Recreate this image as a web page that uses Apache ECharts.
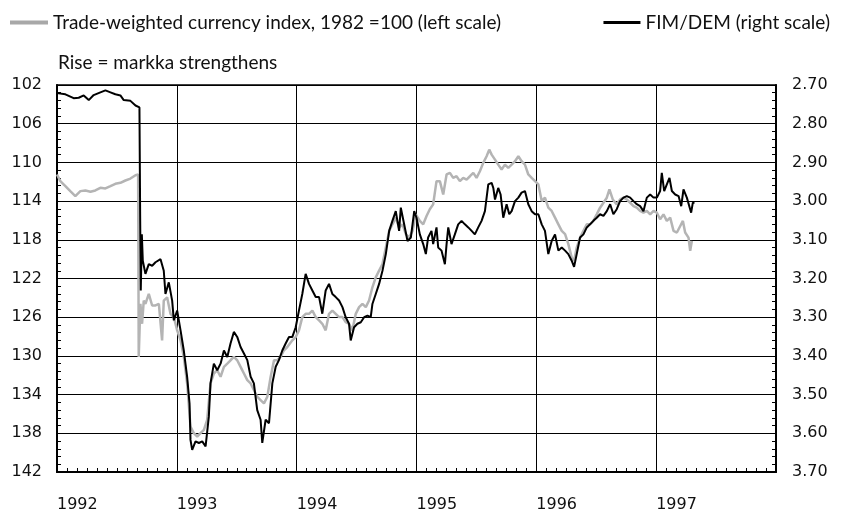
<!DOCTYPE html>
<html>
<head>
<meta charset="utf-8">
<script src="https://cdn.jsdelivr.net/npm/echarts@6/dist/echarts.min.js"></script>
<style>
  html, body { margin: 0; padding: 0; background: #fff; }
  #chart { width: 845px; height: 513px; }
</style>
</head>
<body>
<div id="chart"></div>
<script>
// x axis: decimal years
var yearTicks = [1992, 1993, 1994, 1995, 1996, 1997];

// trade-weighted currency index, 1982=100 (left scale)
var indexYears = [
  1992.000, 1992.028, 1992.070, 1992.111, 1992.153, 1992.195, 1992.237, 1992.279, 1992.320, 1992.362,
  1992.404, 1992.446, 1992.487, 1992.529, 1992.571, 1992.613, 1992.655, 1992.677, 1992.682, 1992.696,
  1992.710, 1992.724, 1992.738, 1992.766, 1992.794, 1992.822, 1992.850, 1992.877, 1992.891, 1992.919,
  1992.947, 1992.975, 1993.003, 1993.031, 1993.058, 1993.086, 1993.114, 1993.142, 1993.170, 1993.198,
  1993.226, 1993.253, 1993.281, 1993.309, 1993.337, 1993.365, 1993.393, 1993.421, 1993.448, 1993.476,
  1993.504, 1993.532, 1993.560, 1993.588, 1993.616, 1993.643, 1993.671, 1993.699, 1993.727, 1993.755,
  1993.783, 1993.811, 1993.838, 1993.866, 1993.894, 1993.922, 1993.964, 1993.992, 1994.019, 1994.047,
  1994.075, 1994.103, 1994.131, 1994.159, 1994.187, 1994.214, 1994.242, 1994.270, 1994.298, 1994.326,
  1994.354, 1994.382, 1994.409, 1994.437, 1994.465, 1994.493, 1994.521, 1994.549, 1994.577, 1994.604,
  1994.632, 1994.660, 1994.688, 1994.716, 1994.744, 1994.772, 1994.799, 1994.827, 1994.855, 1994.883,
  1994.911, 1994.939, 1994.967, 1994.994, 1995.028, 1995.056, 1995.084, 1995.111, 1995.139, 1995.167,
  1995.195, 1995.223, 1995.251, 1995.279, 1995.306, 1995.334, 1995.362, 1995.390, 1995.418, 1995.446,
  1995.474, 1995.501, 1995.529, 1995.557, 1995.585, 1995.607, 1995.627, 1995.655, 1995.682, 1995.710,
  1995.738, 1995.766, 1995.794, 1995.822, 1995.850, 1995.877, 1995.905, 1995.933, 1995.961, 1995.989,
  1996.017, 1996.045, 1996.072, 1996.100, 1996.128, 1996.156, 1996.184, 1996.212, 1996.240, 1996.267,
  1996.295, 1996.315, 1996.337, 1996.365, 1996.393, 1996.421, 1996.448, 1996.476, 1996.504, 1996.532,
  1996.560, 1996.588, 1996.610, 1996.638, 1996.671, 1996.699, 1996.727, 1996.755, 1996.783, 1996.811,
  1996.838, 1996.866, 1996.894, 1996.922, 1996.950, 1996.978, 1997.006, 1997.033, 1997.061, 1997.089,
  1997.117, 1997.145, 1997.173, 1997.201, 1997.223, 1997.242, 1997.270, 1997.284, 1997.298
];
var indexValues = [
  111.25, 111.94, 112.45, 112.97, 113.48, 112.97, 112.90, 113.04, 112.90, 112.63,
  112.69, 112.45, 112.21, 112.11, 111.87, 111.67, 111.32, 111.25, 130.11, 124.62,
  126.68, 124.28, 124.62, 123.59, 124.79, 124.79, 124.62, 128.39, 124.28, 123.94,
  125.65, 125.99, 127.36, 128.39, 130.11, 132.85, 137.30, 137.99, 138.33, 137.99,
  137.65, 136.62, 132.85, 131.82, 131.48, 132.16, 131.13, 130.79, 130.45, 130.11,
  130.45, 131.13, 131.82, 132.51, 132.85, 133.53, 134.22, 134.56, 134.90, 134.22,
  132.16, 130.45, 130.45, 130.11, 129.42, 129.08, 128.39, 128.05, 127.36, 125.99,
  125.65, 125.65, 125.31, 125.99, 126.34, 126.68, 127.36, 125.65, 125.31, 125.65,
  125.99, 125.99, 126.51, 126.68, 127.36, 125.65, 124.96, 124.62, 124.96, 124.28,
  122.91, 121.88, 121.19, 120.51, 118.80, 117.08, 116.40, 115.71, 116.74, 116.40,
  117.42, 117.77, 117.08, 115.37, 116.05, 116.40, 115.54, 114.85, 114.34, 111.94,
  111.94, 113.31, 111.25, 111.08, 111.60, 111.43, 111.94, 111.60, 111.77, 111.43,
  111.08, 111.60, 110.91, 110.05, 109.37, 108.68, 109.20, 109.71, 110.23, 110.74,
  110.23, 110.57, 110.23, 109.88, 109.37, 109.88, 110.23, 111.25, 111.60, 111.94,
  112.28, 114.00, 113.65, 114.68, 115.02, 115.71, 116.40, 117.08, 117.42, 118.45,
  119.82, 120.17, 118.80, 117.77, 117.08, 116.40, 116.40, 116.05, 115.37, 114.68,
  114.17, 113.65, 112.80, 113.83, 114.34, 113.83, 113.65, 113.83, 114.17, 114.51,
  114.68, 115.02, 115.20, 115.02, 115.37, 115.02, 115.20, 115.88, 115.37, 116.05,
  115.71, 117.08, 117.25, 116.57, 116.05, 117.25, 117.77, 119.14, 118.11
];

// FIM/DEM (right scale)
var fimYears = [
  1992.000, 1992.070, 1992.139, 1992.181, 1992.223, 1992.265, 1992.306, 1992.362, 1992.404, 1992.446,
  1992.487, 1992.529, 1992.557, 1992.613, 1992.655, 1992.688, 1992.694, 1992.699, 1992.708, 1992.716,
  1992.738, 1992.766, 1992.794, 1992.822, 1992.864, 1992.891, 1992.905, 1992.933, 1992.961, 1992.975,
  1993.003, 1993.031, 1993.058, 1993.086, 1993.106, 1993.114, 1993.128, 1993.156, 1993.184, 1993.212,
  1993.240, 1993.267, 1993.281, 1993.309, 1993.337, 1993.365, 1993.393, 1993.421, 1993.448, 1993.476,
  1993.504, 1993.532, 1993.560, 1993.588, 1993.616, 1993.643, 1993.671, 1993.699, 1993.713, 1993.741,
  1993.769, 1993.797, 1993.825, 1993.852, 1993.880, 1993.908, 1993.936, 1993.964, 1993.992, 1994.019,
  1994.047, 1994.075, 1994.103, 1994.131, 1994.159, 1994.187, 1994.214, 1994.242, 1994.270, 1994.298,
  1994.326, 1994.354, 1994.382, 1994.409, 1994.437, 1994.451, 1994.479, 1994.507, 1994.535, 1994.563,
  1994.591, 1994.618, 1994.632, 1994.660, 1994.688, 1994.716, 1994.744, 1994.772, 1994.799, 1994.827,
  1994.855, 1994.869, 1994.897, 1994.925, 1994.953, 1994.981, 1995.000, 1995.028, 1995.056, 1995.078,
  1995.097, 1995.125, 1995.139, 1995.167, 1995.181, 1995.209, 1995.237, 1995.251, 1995.265, 1995.292,
  1995.320, 1995.348, 1995.376, 1995.404, 1995.432, 1995.460, 1995.487, 1995.515, 1995.543, 1995.571,
  1995.599, 1995.627, 1995.641, 1995.655, 1995.682, 1995.702, 1995.724, 1995.752, 1995.774, 1995.794,
  1995.822, 1995.850, 1995.877, 1995.905, 1995.933, 1995.961, 1995.989, 1996.017, 1996.045, 1996.072,
  1996.100, 1996.128, 1996.156, 1996.184, 1996.212, 1996.240, 1996.267, 1996.295, 1996.315, 1996.337,
  1996.365, 1996.393, 1996.421, 1996.448, 1996.476, 1996.504, 1996.532, 1996.560, 1996.588, 1996.616,
  1996.643, 1996.671, 1996.699, 1996.727, 1996.755, 1996.783, 1996.811, 1996.838, 1996.866, 1996.894,
  1996.922, 1996.950, 1996.978, 1997.006, 1997.033, 1997.047, 1997.067, 1997.089, 1997.111, 1997.131,
  1997.159, 1997.187, 1997.209, 1997.228, 1997.256, 1997.270, 1997.292, 1997.306, 1997.320
];
var fimValues = [
  2.721, 2.724, 2.734, 2.733, 2.727, 2.739, 2.726, 2.719, 2.714, 2.719,
  2.724, 2.727, 2.739, 2.741, 2.753, 2.758, 3.043, 3.231, 3.086, 3.154,
  3.188, 3.163, 3.167, 3.158, 3.150, 3.180, 3.240, 3.210, 3.257, 3.308,
  3.283, 3.334, 3.386, 3.454, 3.523, 3.617, 3.643, 3.621, 3.625, 3.621,
  3.634, 3.557, 3.471, 3.420, 3.437, 3.420, 3.386, 3.403, 3.368, 3.338,
  3.351, 3.377, 3.394, 3.411, 3.454, 3.471, 3.540, 3.565, 3.625, 3.565,
  3.574, 3.471, 3.428, 3.411, 3.386, 3.368, 3.351, 3.351, 3.326, 3.283,
  3.240, 3.188, 3.214, 3.231, 3.248, 3.248, 3.291, 3.231, 3.214, 3.240,
  3.248, 3.257, 3.274, 3.300, 3.317, 3.360, 3.326, 3.317, 3.313, 3.300,
  3.296, 3.300, 3.266, 3.240, 3.214, 3.180, 3.137, 3.077, 3.051, 3.026,
  3.077, 3.017, 3.060, 3.103, 3.094, 3.026, 3.043, 3.086, 3.111, 3.137,
  3.094, 3.077, 3.111, 3.068, 3.120, 3.128, 3.163, 3.111, 3.068, 3.111,
  3.086, 3.060, 3.051, 3.060, 3.068, 3.077, 3.086, 3.068, 3.051, 3.026,
  2.957, 2.953, 2.966, 2.996, 2.966, 2.983, 3.043, 3.008, 3.034, 3.026,
  3.000, 2.991, 2.978, 2.974, 3.008, 3.026, 3.034, 3.034, 3.060, 3.077,
  3.137, 3.103, 3.086, 3.128, 3.120, 3.128, 3.137, 3.154, 3.170, 3.137,
  3.094, 3.086, 3.068, 3.060, 3.051, 3.043, 3.034, 3.038, 3.026, 3.008,
  3.034, 3.021, 3.000, 2.991, 2.987, 2.991, 3.000, 3.008, 3.013, 3.026,
  2.991, 2.983, 2.991, 2.991, 2.974, 2.927, 2.974, 2.957, 2.940, 2.974,
  2.983, 2.987, 3.013, 2.970, 2.991, 2.996, 3.030, 3.004, 3.004
];

var indexName = "Trade-weighted currency index, 1982 =100 (left scale)";
var fimName = "FIM/DEM (right scale)";

var myChart = echarts.init(document.getElementById("chart"));

var labelFont = {
  color: "#111",
  fontFamily: "DejaVu Sans",
  fontSize: 16,
};

myChart.setOption({
  animation: false,
  backgroundColor: "#fff",
  legend: [
    {
      left: 5,
      top: 8,
      icon: "rect",
      itemWidth: 38,
      itemHeight: 4,
      data: [indexName],
      textStyle: { color: "#111", fontFamily: "Lato", fontSize: 19 },
    },
    {
      right: 10,
      top: 8,
      icon: "rect",
      itemWidth: 37,
      itemHeight: 3,
      data: [fimName],
      textStyle: { color: "#111", fontFamily: "Lato", fontSize: 19 },
    },
  ],
  graphic: [
    {
      type: "text",
      left: 58,
      top: 53,
      style: {
        text: "Rise = markka strengthens",
        fill: "#111",
        font: '19px "Lato"',
      },
    },
  ],
  grid: {
    left: 57,
    right: 69,
    top: 85,
    bottom: 39,
    show: true,
    borderColor: "#000",
    borderWidth: 1.5,
  },
  xAxis: {
    type: "value",
    min: 1992,
    max: 1998,
    interval: 1,
    axisLine: { lineStyle: { color: "#000", width: 2 } },
    axisTick: { show: true, inside: true, length: 5, lineStyle: { color: "#000" } },
    minorTick: { show: true, splitNumber: 12, length: 4, lineStyle: { color: "#000" } },
    splitLine: { show: true, lineStyle: { color: "#000", width: 1 } },
    axisLabel: {
      ...labelFont,
      align: "left",
      margin: 25,
      formatter: function (v) {
        return yearTicks.indexOf(v) >= 0 ? String(v) : "";
      },
    },
  },
  yAxis: [
    {
      type: "value",
      position: "left",
      inverse: true,
      min: 102,
      max: 142,
      interval: 4,
      axisLine: { show: true, lineStyle: { color: "#000", width: 2 } },
      axisTick: { show: true, inside: true, length: 5, lineStyle: { color: "#000" } },
      minorTick: { show: true, splitNumber: 5, length: 4, lineStyle: { color: "#000" } },
      splitLine: { show: true, lineStyle: { color: "#000", width: 1 } },
      axisLabel: { ...labelFont, margin: 15 },
    },
    {
      type: "value",
      position: "right",
      inverse: true,
      min: 2.7,
      max: 3.7,
      interval: 0.1,
      axisLine: { show: true, lineStyle: { color: "#000", width: 2 } },
      axisTick: { show: true, inside: true, length: 5, lineStyle: { color: "#000" } },
      minorTick: { show: true, splitNumber: 5, length: 4, lineStyle: { color: "#000" } },
      splitLine: { show: false },
      axisLabel: {
        ...labelFont,
        margin: 16,
        formatter: function (v) {
          return v.toFixed(2);
        },
      },
    },
  ],
  series: [
    {
      name: indexName,
      type: "line",
      yAxisIndex: 0,
      showSymbol: false,
      color: "#a8a8a8",
      lineStyle: { color: "#b4b4b4", width: 2.5 },
      data: indexYears.map(function (y, i) { return [y, indexValues[i]]; }),
      z: 2,
    },
    {
      name: fimName,
      type: "line",
      yAxisIndex: 1,
      showSymbol: false,
      color: "#000",
      lineStyle: { color: "#000", width: 2 },
      data: fimYears.map(function (y, i) { return [y, fimValues[i]]; }),
      z: 3,
    },
  ],
});
</script>
</body>
</html>
